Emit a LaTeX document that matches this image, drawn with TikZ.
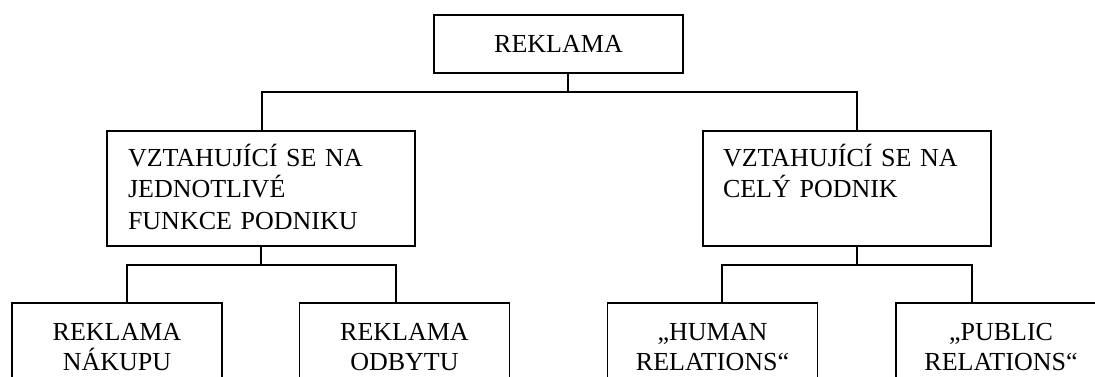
\documentclass[tikz,border=0pt]{standalone}
\usepackage{fontspec}
\setmainfont{Liberation Serif}
\begin{document}
\begin{tikzpicture}[x=1pt,y=-1pt,
  box/.style={draw, line width=1.8pt, inner sep=0pt,
    font=\fontsize{26}{30}\selectfont},
  leafbox/.style={box, minimum width=210pt, minimum height=88pt, align=center},
  midbox/.style={box, minimum height=115pt, align=left,
    font=\fontsize{26}{31.5}\selectfont},
  wire/.style={line width=1.8pt}]
\useasboundingbox (0,0) rectangle (1095,376);
\clip (0,0) rectangle (1095,376);

% root
\node[box, minimum width=249pt, minimum height=58pt] (root) at (558.5,44) {REKLAMA};

% second level
\node[midbox, minimum width=308pt, text width=266pt] (L) at (261,188.5)
  {VZTAHUJÍCÍ SE NA\\JEDNOTLIVÉ\\FUNKCE PODNIKU\vspace{4pt}};
\node[midbox, minimum width=288pt, text width=248pt] (R) at (847,188.5)
  {VZTAHUJÍCÍ SE NA\\CELÝ PODNIK\\\mbox{}\vspace{4pt}};

% leaves
\node[leafbox] (b1) at (117,347) {REKLAMA\\NÁKUPU};
\node[leafbox] (b2) at (404.5,347) {REKLAMA\\ODBYTU};
\node[leafbox] (b3) at (712.5,347) {„HUMAN\\RELATIONS“};
\node[leafbox] (b4) at (1001,347) {„PUBLIC\\RELATIONS“};

% junction points of the tree
\coordinate (j0) at (568,92);
\coordinate (jl) at (261,265);
\coordinate (jr) at (857,265);

\draw[wire] (root.south -| j0) -- (j0);
\draw[wire] ([xshift=1pt]L.north) |- (j0) -| ([xshift=10pt]R.north);

\draw[wire] (L.south -| jl) -- (jl);
\draw[wire] ([xshift=10pt]b1.north) |- (jl) -| ([xshift=-8.5pt]b2.north);

\draw[wire] (R.south -| jr) -- (jr);
\draw[wire] ([xshift=9.5pt]b3.north) |- (jr) -| ([xshift=-29pt]b4.north);
\end{tikzpicture}
\end{document}
